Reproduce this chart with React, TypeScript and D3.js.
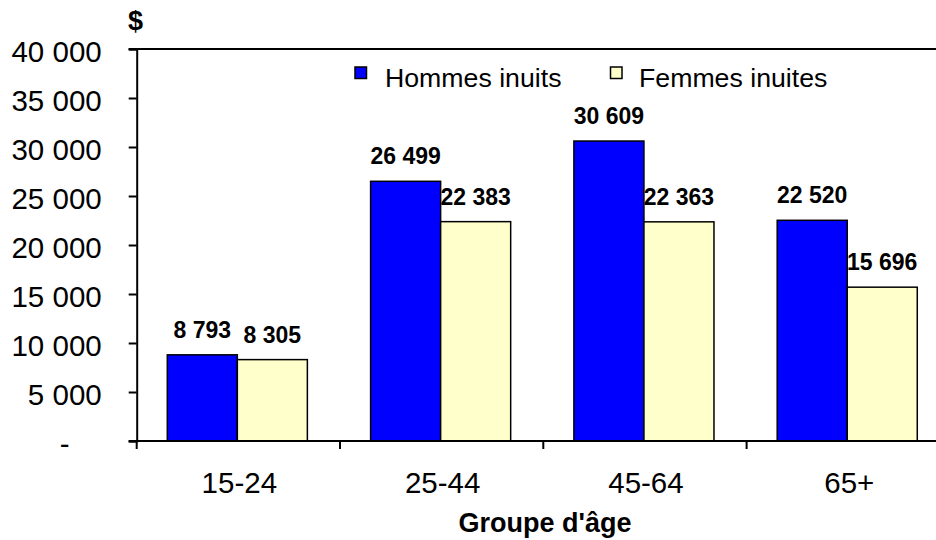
import React, { useEffect, useRef } from "react";
import * as d3 from "d3";

const categories = ["15-24", "25-44", "45-64", "65+"];
const seriesNames = ["Hommes inuits", "Femmes inuites"];
const hommes = [8793, 26499, 30609, 22520];
const femmes = [8305, 22383, 22363, 15696];
const yTicks = [0, 5000, 10000, 15000, 20000, 25000, 30000, 35000, 40000];
const yAxisUnit = "$";
const xAxisTitle = "Groupe d'âge";

const colors = ["#0000FF", "#FFFFCC"];

const W = 936;
const H = 540;
const FONT = "'Liberation Sans', Arial, Helvetica, sans-serif";

export default function App() {
  const ref = useRef<SVGSVGElement | null>(null);

  useEffect(() => {
    const svg = d3.select(ref.current);
    svg.selectAll("*").remove();

    const x0 = 136.7;
    const step = 203.3;
    const yTop = 49;
    const yBottom = 441;

    const x = d3
      .scaleBand<string>()
      .domain(categories)
      .range([x0, x0 + step * categories.length])
      .padding(0);
    const bw = x.bandwidth();
    const x1 = d3
      .scaleBand<string>()
      .domain(seriesNames)
      .range([bw * 0.1505, bw * 0.8395])
      .padding(0);
    const y = d3.scaleLinear().domain([0, 40000]).range([yBottom, yTop]);

    const loc = d3.formatLocale({
      decimal: ",",
      thousands: " ",
      grouping: [3],
      currency: ["", "$"],
    });
    const fmt = loc.format(",d");

    const data = categories.map((c, i) => ({
      cat: c,
      vals: [
        { s: seriesNames[0], v: hommes[i], c: colors[0] },
        { s: seriesNames[1], v: femmes[i], c: colors[1] },
      ],
    }));

    // Bars
    const g = svg.append("g");
    const groups = g
      .selectAll("g.cat")
      .data(data)
      .enter()
      .append("g")
      .attr("transform", (d) => `translate(${x(d.cat)},0)`);
    groups
      .selectAll("rect")
      .data((d) => d.vals)
      .enter()
      .append("rect")
      .attr("x", (d) => x1(d.s)!)
      .attr("y", (d) => y(d.v))
      .attr("width", x1.bandwidth())
      .attr("height", (d) => y(0) - y(d.v))
      .attr("fill", (d) => d.c)
      .attr("stroke", "#000")
      .attr("stroke-width", 1.5);
    groups
      .selectAll("text.val")
      .data((d) => d.vals)
      .enter()
      .append("text")
      .attr("x", (d) => x1(d.s)! + x1.bandwidth() / 2)
      .attr("y", (d) => y(d.v) - 17)
      .attr("text-anchor", "middle")
      .attr("font-family", FONT)
      .attr("font-weight", "bold")
      .attr("font-size", 23)
      .attr("fill", "#000")
      .text((d) => fmt(d.v));

    // top border line
    svg
      .append("line")
      .attr("x1", x0 - 8)
      .attr("x2", W + 20)
      .attr("y1", yTop)
      .attr("y2", yTop)
      .attr("stroke", "#000")
      .attr("stroke-width", 2);

    // Y axis
    const yAxis = d3
      .axisLeft(y)
      .tickValues(yTicks)
      .tickSize(8)
      .tickPadding(27)
      .tickFormat((d) => (+d === 0 ? "-" : fmt(+d)));
    const ya = svg.append("g").attr("transform", `translate(${x0},0)`).call(yAxis);
    ya.select(".domain").attr("stroke", "#000").attr("stroke-width", 2);
    ya.selectAll(".tick line").attr("stroke", "#000").attr("stroke-width", 2);
    ya.selectAll(".tick text")
      .attr("font-family", FONT)
      .attr("font-size", 29.5)
      .attr("fill", "#000")
      .attr("dy", 12.5)
      .attr("dx", (d: any) => (+d === 0 ? -32 : 0));

    // X axis
    svg
      .append("line")
      .attr("x1", x0 - 8)
      .attr("x2", W + 20)
      .attr("y1", yBottom)
      .attr("y2", yBottom)
      .attr("stroke", "#000")
      .attr("stroke-width", 2);
    const bounds = categories.map((c) => x(c)!).concat([x0 + step * categories.length]);
    svg
      .selectAll("line.xt")
      .data(bounds)
      .enter()
      .append("line")
      .attr("x1", (d) => d)
      .attr("x2", (d) => d)
      .attr("y1", yBottom)
      .attr("y2", yBottom + 8)
      .attr("stroke", "#000")
      .attr("stroke-width", 2);
    svg
      .selectAll("text.xl")
      .data(categories)
      .enter()
      .append("text")
      .attr("x", (d) => x(d)! + bw / 2 + 1)
      .attr("y", 493.3)
      .attr("text-anchor", "middle")
      .attr("font-family", FONT)
      .attr("font-size", 29.5)
      .attr("fill", "#000")
      .text((d) => d);

    // axis titles
    svg
      .append("text")
      .attr("x", 545)
      .attr("y", 532)
      .attr("text-anchor", "middle")
      .attr("font-family", FONT)
      .attr("font-weight", "bold")
      .attr("font-size", 27)
      .attr("fill", "#000")
      .text(xAxisTitle);
    svg
      .append("text")
      .attr("x", 135.5)
      .attr("y", 30)
      .attr("text-anchor", "middle")
      .attr("font-family", FONT)
      .attr("font-weight", "bold")
      .attr("font-size", 27)
      .attr("fill", "#000")
      .text(yAxisUnit);

    // Legend
    const legendItems = [
      { name: seriesNames[0], c: colors[0], sx: 355, tx: 385 },
      { name: seriesNames[1], c: colors[1], sx: 610.5, tx: 639 },
    ];
    const lg = svg.append("g");
    lg.selectAll("rect")
      .data(legendItems)
      .enter()
      .append("rect")
      .attr("x", (d) => d.sx)
      .attr("y", 67)
      .attr("width", 11.5)
      .attr("height", 11.5)
      .attr("fill", (d) => d.c)
      .attr("stroke", "#000")
      .attr("stroke-width", 1.5);
    lg.selectAll("text")
      .data(legendItems)
      .enter()
      .append("text")
      .attr("x", (d) => d.tx)
      .attr("y", 86.7)
      .attr("font-family", FONT)
      .attr("font-size", 26.7)
      .attr("fill", "#000")
      .text((d) => d.name);
  }, []);

  return (
    <svg
      ref={ref}
      width={W}
      height={H}
      style={{ position: "absolute", left: 0, top: 0, overflow: "hidden", background: "#fff" }}
    />
  );
}
